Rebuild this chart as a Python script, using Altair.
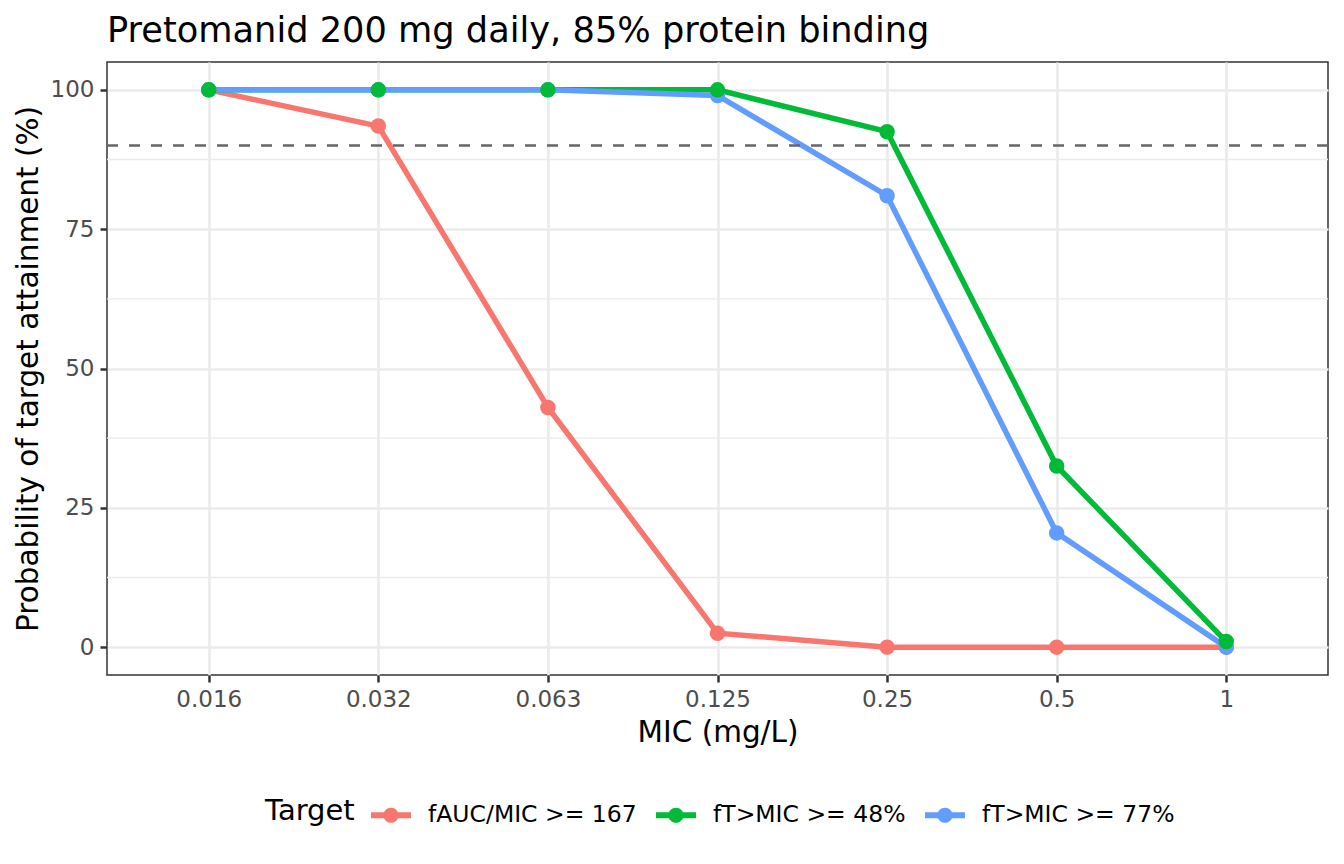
import altair as alt
import pandas as pd

# MIC breakpoints (mg/L) shown as discrete categories
mic_labels = ["0.016", "0.032", "0.063", "0.125", "0.25", "0.5", "1"]
targets = ["fAUC/MIC >= 167", "fT>MIC >= 48%", "fT>MIC >= 77%"]
colors = ["#F8766D", "#00BA38", "#619CFF"]

# probability of target attainment (%) per target
pta_fauc_167 = [100, 93.5, 43, 2.5, 0, 0, 0]
pta_ft_48 = [100, 100, 100, 100, 92.5, 32.5, 1]
pta_ft_77 = [100, 100, 100, 99, 81, 20.5, 0]

threshold = [90]
major_y = [0, 25, 50, 75, 100]
minor_y = [12.5, 37.5, 62.5, 87.5]

series = [pta_fauc_167, pta_ft_48, pta_ft_77]
rows = []
for t, vals in zip(targets, series):
    for m, v in zip(mic_labels, vals):
        rows.append({"MIC": m, "PTA": v, "Target": t})
df = pd.DataFrame(rows)

FONT = "DejaVu Sans"
legend_symbol = ("M-1,-0.15L1,-0.15L1,0.15L-1,0.15Z "
                 "M0.38,0A0.38,0.38,0,1,1,-0.38,0A0.38,0.38,0,1,1,0.38,0Z")

legend = alt.Legend(
    title="Target", orient="none", legendX=158, legendY=733,
    direction="horizontal", titleOrient="left",
    symbolType=legend_symbol, symbolSize=1600, symbolStrokeWidth=0,
    titleFontSize=29, titleFontWeight="normal", titleColor="black",
    titlePadding=16, labelFontSize=23.5, labelColor="black",
    labelOffset=17, columnPadding=19, labelLimit=400,
)

x_enc = alt.X("MIC:N", sort=mic_labels,
              scale=alt.Scale(type="point", padding=0.6),
              axis=alt.Axis(title="MIC (mg/L)", labelAngle=0))
y_enc = alt.Y("PTA:Q", scale=alt.Scale(domain=[-5, 105], nice=False, zero=False),
              axis=alt.Axis(title="Probability of target attainment (%)", values=major_y))
color_enc = alt.Color("Target:N", scale=alt.Scale(domain=targets, range=colors),
                      legend=legend)

minor = alt.Chart(pd.DataFrame({"y": minor_y})).mark_rule(
    color="#EBEBEB", strokeWidth=1.3
).encode(y=alt.Y("y:Q"))

ref = alt.Chart(pd.DataFrame({"y": threshold})).mark_rule(
    color="#666666", strokeWidth=2.5, strokeDash=[11, 11]
).encode(y=alt.Y("y:Q"))

lines = alt.Chart(df).mark_line(strokeWidth=5.5).encode(
    x=x_enc, y=y_enc, color=color_enc
)

points = alt.Chart(df).transform_calculate(
    z="datum.Target == 'fT>MIC >= 48%' ? 3 : (datum.Target == 'fT>MIC >= 77%' ? 2 : 1)"
).mark_point(filled=True, size=240, opacity=1).encode(
    x=x_enc, y=y_enc, color=color_enc, order=alt.Order("z:Q")
)

chart = alt.layer(minor, lines, ref, points).properties(
    width=1221, height=613,
    autosize=alt.AutoSizeParams(type="none"),
    padding={"left": 99, "top": 54, "right": 8, "bottom": 170},
    title=alt.Title("Pretomanid 200 mg daily, 85% protein binding",
                    anchor="start", frame="group", offset=13,
                    fontSize=35.2, fontWeight="normal", color="black", font=FONT),
).configure_view(
    stroke="#333333", strokeWidth=1.5
).configure_axis(
    domain=False, grid=True, gridColor="#EBEBEB", gridWidth=2.7,
    tickColor="#333333", tickSize=7, tickWidth=2.5,
    labelFont=FONT, labelFontSize=23, labelColor="#4D4D4D", labelPadding=6,
    titleFont=FONT, titleFontSize=29.5, titleFontWeight="normal", titleColor="black",
    titlePadding=7,
).configure_legend(
    labelFont=FONT, titleFont=FONT
)

chart.save("out.html", embed_options={"renderer": "svg", "actions": False})
